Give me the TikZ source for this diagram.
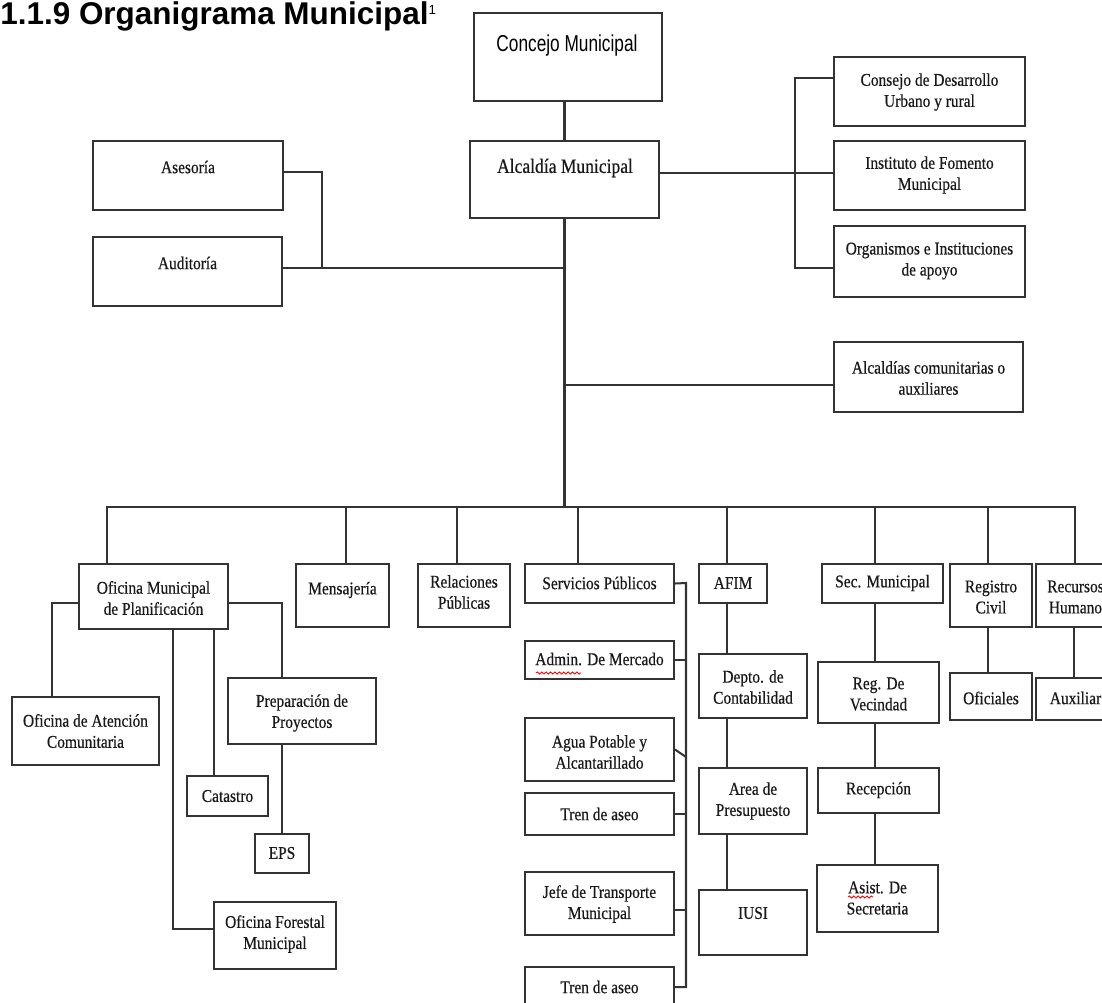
\documentclass[tikz,border=0pt]{standalone}
\usepackage{fontspec}
\usetikzlibrary{fit,decorations.pathmorphing}
\newfontfamily\bxfont{Liberation Serif}[FakeStretch=0.86,FakeBold=0.5]
\newfontfamily\cjfont{Liberation Sans}[FakeStretch=0.75]
\newfontfamily\ttlfont{Liberation Sans}
\definecolor{ln}{HTML}{333333}
% name, x1, y1, x2, y2, text-y, text
\newcommand\orgbox[7]{%
  \node[box, fit={(#2,#3)(#4,#5)}] (#1) {};
  \node[txt] (#1-t) at ({(#2+#4)/2},#6) {#7};}
\begin{document}
\begin{tikzpicture}[x=0.02cm,y=-0.02cm,
  box/.style={draw=ln, line width=1.15pt, inner sep=0pt, fill=white},
  txt/.style={font=\bxfont\fontsize{10.2}{12}\selectfont, align=center, inner sep=0pt, text=black!90},
  conn/.style={draw=ln, line width=1.15pt},
  squig/.style={draw=red, line width=0.5pt, decorate, decoration={snake, amplitude=0.6pt, segment length=2.5pt}}]
\useasboundingbox (0,0) rectangle (1102,1002);
\clip (0,0) rectangle (1102,1002);

% title
\node[font=\ttlfont\bfseries\fontsize{17.9}{20}\selectfont, anchor=base west, inner sep=0pt] (title) at (0,24) {1.1.9 Organigrama Municipal\raisebox{5.5pt}{\mdseries\fontsize{7.5}{8}\selectfont 1}};

% top
\node[box, fit={(474,13)(662,101)}] (concejo) {};
\node[font=\cjfont\fontsize{13.1}{15}\selectfont, inner sep=0pt] (concejo-t) at (567,46) {Concejo Municipal};
\node[box, fit={(470,141)(659,218)}] (alcaldia) {};
\node[txt, font=\bxfont\fontsize{11.6}{13}\selectfont] (alcaldia-t) at (565,168) {Alcaldía Municipal};

\orgbox{consejo}{834}{57}{1025}{126}{92}{Consejo de Desarrollo\\Urbano y rural}
\orgbox{instituto}{834}{141}{1025}{210}{175}{Instituto de Fomento\\Municipal}
\orgbox{organismos}{834}{226}{1025}{297}{261}{Organismos e Instituciones\\de apoyo}
\orgbox{asesoria}{93}{141}{283}{210}{167}{Asesoría}
\orgbox{auditoria}{93}{237}{282}{306}{263}{Auditoría}
\orgbox{alcom}{834}{342}{1023}{412}{378}{Alcaldías comunitarias o\\auxiliares}

% second level
\orgbox{omp}{79}{564}{228}{629}{598}{Oficina Municipal\\de Planificación}
\orgbox{mensajeria}{296}{564}{389}{627}{590}{Mensajería}
\orgbox{relaciones}{418}{564}{510}{627}{592}{Relaciones\\Públicas}
\orgbox{servicios}{525}{564}{674}{603}{583}{Servicios Públicos}
\orgbox{afim}{699}{564}{767}{603}{583}{AFIM}
\orgbox{secmun}{822}{564}{943}{603}{583}{Sec. Municipal}
\orgbox{registro}{950}{564}{1032}{627}{597}{Registro\\Civil}
\orgbox{recursos}{1036}{564}{1115}{627}{597}{Recursos\\Humano}

% planificacion
\orgbox{atencion}{12}{697}{159}{765}{731}{Oficina de Atención\\Comunitaria}
\orgbox{preparacion}{228}{678}{376}{744}{713}{Preparación de\\Proyectos}
\orgbox{catastro}{187}{776}{268}{816}{796}{Catastro}
\orgbox{eps}{255}{834}{309}{873}{853}{EPS}
\orgbox{forestal}{214}{902}{336}{969}{934}{Oficina Forestal\\Municipal}

% servicios
\orgbox{admin}{525}{641}{674}{679}{659}{Admin. De Mercado}
\orgbox{agua}{525}{718}{674}{781}{752}{Agua Potable y\\Alcantarillado}
\orgbox{tren1}{525}{793}{674}{835}{814}{Tren de aseo}
\orgbox{jefe}{525}{872}{674}{935}{904}{Jefe de Transporte\\Municipal}
\orgbox{tren2}{525}{967}{674}{1008}{987}{Tren de aseo}

% afim
\orgbox{depto}{699}{654}{807}{718}{687}{Depto. de\\Contabilidad}
\orgbox{area}{699}{768}{807}{834}{801}{Area de\\Presupuesto}
\orgbox{iusi}{699}{890}{807}{955}{913}{IUSI}

% secretaria
\orgbox{regvec}{818}{662}{939}{723}{694}{Reg. De\\Vecindad}
\orgbox{recepcion}{818}{768}{939}{813}{790}{Recepción}
\orgbox{asist}{817}{865}{938}{932}{898}{Asist. De\\Secretaria}

% registro / recursos
\orgbox{oficiales}{950}{673}{1032}{720}{698}{Oficiales}
\orgbox{auxiliar}{1036}{678}{1115}{720}{698}{Auxiliar}

% spell-check marks
\draw[squig] (536,673) -- (581,673);
\draw[squig] (848,897) -- (873,897);

% ---------- connectors ----------
\coordinate (busL) at (107,507);
\coordinate (busR) at (1075,507);
\coordinate (b1) at (795,78);
\coordinate (b2) at (795,268);
\coordinate (jI) at (565,173);
\coordinate (jL) at (565,268);
\coordinate (aT) at (322,172);
\coordinate (aV) at (322,268);
\coordinate (jC) at (565,385);
\coordinate (dMen) at (346,507);
\coordinate (dRel) at (457,507);
\coordinate (dSer) at (578,507);
\coordinate (dAf) at (727,507);
\coordinate (dSec) at (875,507);
\coordinate (dReg) at (988,507);
\coordinate (dRec) at (1074,507);

\draw[conn] (concejo.south -| alcaldia.north) -- (alcaldia.north);
\draw[conn] (alcaldia.south) -- (alcaldia.south |- busL);
\draw[conn] (jI -| alcaldia.east) -- (jI -| instituto.west);
\draw[conn] (b1 -| consejo.west) -- (b1) -- (b2) -- (b2 -| organismos.west);
\draw[conn] (jL) -- (jL -| auditoria.east);
\draw[conn] (aT -| asesoria.east) -- (aT) -- (aV);
\draw[conn] (jC) -- (jC -| alcom.west);

\draw[conn] (busL |- omp.north) -- (busL) -- (busR) -- (busR |- recursos.north);
\draw[conn] (dMen) -- (dMen |- mensajeria.north);
\draw[conn] (dRel) -- (dRel |- relaciones.north);
\draw[conn] (dSer) -- (dSer |- servicios.north);
\draw[conn] (dAf) -- (dAf |- afim.north);
\draw[conn] (dSec) -- (dSec |- secmun.north);
\draw[conn] (dReg) -- (dReg |- registro.north);

% planificacion children
\coordinate (oL) at (52,603);
\coordinate (oR) at (282,603);
\coordinate (oC) at (214,629);
\coordinate (oF) at (173,629);
\coordinate (oF2) at (173,929);
\draw[conn] (oL -| omp.west) -- (oL) -- (oL |- atencion.north);
\draw[conn] (oR -| omp.east) -- (oR) -- (oR |- preparacion.north);
\draw[conn] (oC) -- (oC |- catastro.north);
\draw[conn] (oF) -- (oF2) -- (oF2 -| forestal.west);
\draw[conn] (eps.north |- preparacion.south) -- (eps.north);

% servicios bracket
\coordinate (sA) at (686,583);
\coordinate (sB) at (686,987);
\coordinate (sAg) at (686,757);
\coordinate (sJ) at (686,910);
\draw[conn] (servicios.east) -- (sA) -- (sB) -- (sB -| tren2.east);
\draw[conn] (admin.east) -- (admin.east -| sA);
\draw[conn] (agua.east) -- (sAg);
\draw[conn] (tren1.east) -- (tren1.east -| sA);
\draw[conn] (sJ -| jefe.east) -- (sJ);

% afim chain
\draw[conn] (dAf |- afim.south) -- (dAf |- depto.north);
\draw[conn] (dAf |- depto.south) -- (dAf |- area.north);
\draw[conn] (dAf |- area.south) -- (dAf |- iusi.north);

% secretaria chain
\draw[conn] (dSec |- secmun.south) -- (dSec |- regvec.north);
\draw[conn] (dSec |- regvec.south) -- (dSec |- recepcion.north);
\draw[conn] (dSec |- recepcion.south) -- (dSec |- asist.north);

% registro / recursos
\draw[conn] (dReg |- registro.south) -- (dReg |- oficiales.north);
\draw[conn] (dRec |- recursos.south) -- (dRec |- auxiliar.north);
\end{tikzpicture}
\end{document}
